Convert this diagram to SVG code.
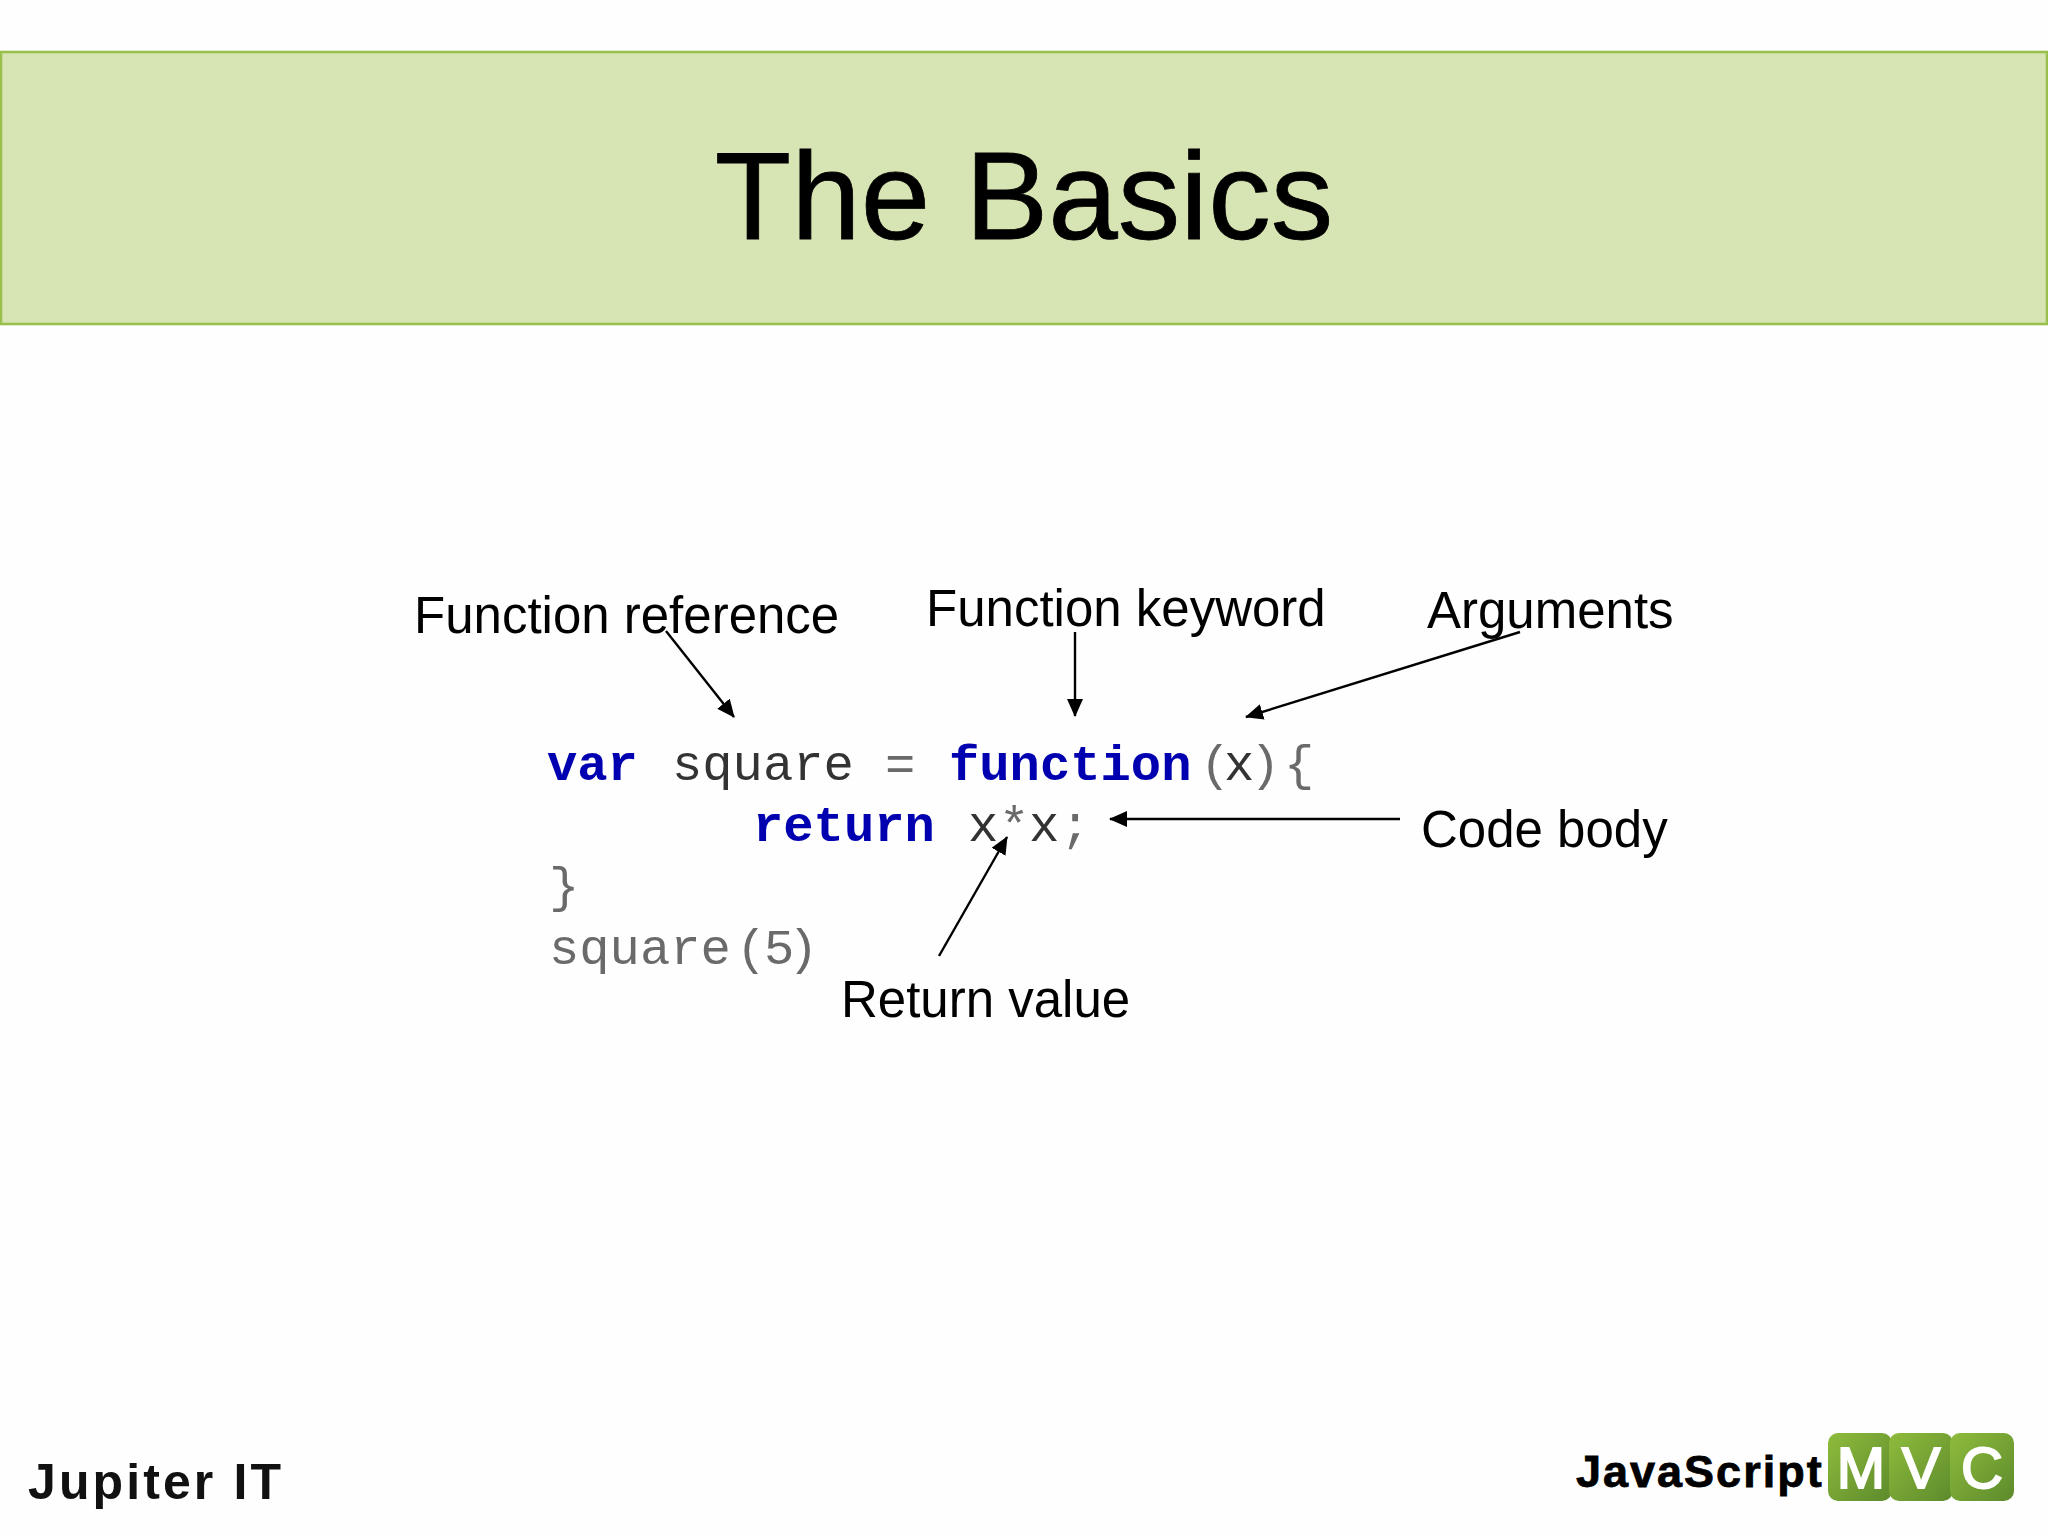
<svg xmlns="http://www.w3.org/2000/svg" width="2048" height="1536" viewBox="0 0 2048 1536">
<style>
.lbl{font-family:"Liberation Sans",Arial,sans-serif;font-size:51px;fill:#000}
.c{font-family:"Liberation Mono","Courier New",monospace;font-size:50.5px;white-space:pre}
.k{font-weight:bold;fill:#0000b0}
.d{fill:#333}
.g{fill:#6a6a6a}
.a{stroke:#000;stroke-width:2.4;fill:none;marker-end:url(#arr)}
.tile{font-family:"Liberation Sans",Arial,sans-serif;font-size:58px;fill:#fff;stroke:#fff;stroke-width:2;text-anchor:middle}
</style>
<defs>
<marker id="arr" markerUnits="userSpaceOnUse" markerWidth="18" markerHeight="16" refX="17" refY="8" orient="auto"><path d="M0 0L18 8L0 16Z" fill="#000"/></marker>
<linearGradient id="tg" x1="0" y1="0" x2="1" y2="1"><stop offset="0" stop-color="#8fbc3c"/><stop offset="1" stop-color="#5c8a2c"/></linearGradient>
</defs>
<rect width="2048" height="1536" fill="#fefefe"/>
<g id="header">
<rect x="1" y="52" width="2046" height="272" fill="#d7e5b4" stroke="#9bbf4f" stroke-width="2.6"/>
<text x="1024" y="239" text-anchor="middle" font-family="Liberation Sans, Arial, sans-serif" font-size="125" fill="#000" stroke="#000" stroke-width="0.8">The Basics</text>
</g>
<g id="code">
<text class="c" y="780"><tspan class="k" x="547">var</tspan><tspan class="d" x="672">square</tspan><tspan class="g" x="885">=</tspan><tspan class="k" x="949">function</tspan><tspan class="g" x="1200">(</tspan><tspan class="d" x="1224">x</tspan><tspan class="g" x="1250">)</tspan><tspan class="g" x="1284">{</tspan></text>
<text class="c" y="841"><tspan class="k" x="753">return</tspan><tspan class="d" x="968">x</tspan><tspan class="g" x="999">*</tspan><tspan class="d" x="1029">x</tspan><tspan class="g" x="1060">;</tspan></text>
<text class="c g" x="549" y="902">}</text>
<text class="c g" y="964"><tspan x="549">square</tspan><tspan x="736">(</tspan><tspan x="764">5</tspan><tspan x="788">)</tspan></text>
</g>
<g id="label-function-reference"><text class="lbl" x="414" y="633">Function reference</text></g>
<g id="label-function-keyword"><text class="lbl" x="926" y="626">Function keyword</text></g>
<g id="label-arguments"><text class="lbl" x="1427" y="628">Arguments</text></g>
<g id="label-code-body"><text class="lbl" x="1421" y="847">Code body</text></g>
<g id="label-return-value"><text class="lbl" x="841" y="1017">Return value</text></g>
<g id="connectors">
<line class="a" x1="666" y1="631" x2="734" y2="717"/>
<line class="a" x1="1075" y1="632" x2="1075" y2="716"/>
<line class="a" x1="1520" y1="632" x2="1246" y2="717"/>
<line class="a" x1="1400" y1="819" x2="1110" y2="819"/>
<line class="a" x1="939" y1="956" x2="1007" y2="837"/>
</g>
<g id="footer-jupiter"><text x="28" y="1499" font-family="Liberation Sans, Arial, sans-serif" font-weight="bold" font-size="50" letter-spacing="3.1" fill="#111">Jupiter IT</text></g>
<g id="logo">
<text x="1576" y="1487" font-family="Liberation Sans, Arial, sans-serif" font-weight="bold" font-size="45" letter-spacing="2" fill="#000" stroke="#000" stroke-width="0.8">JavaScript</text>
<rect x="1828" y="1433" width="64" height="68" rx="10" fill="url(#tg)"/>
<rect x="1889" y="1433" width="64" height="68" rx="10" fill="url(#tg)"/>
<rect x="1950" y="1433" width="64" height="68" rx="10" fill="url(#tg)"/>
<text class="tile" x="1861" y="1488">M</text>
<text class="tile" x="1921" y="1488">V</text>
<text class="tile" x="1982" y="1488">C</text>
</g>
</svg>
